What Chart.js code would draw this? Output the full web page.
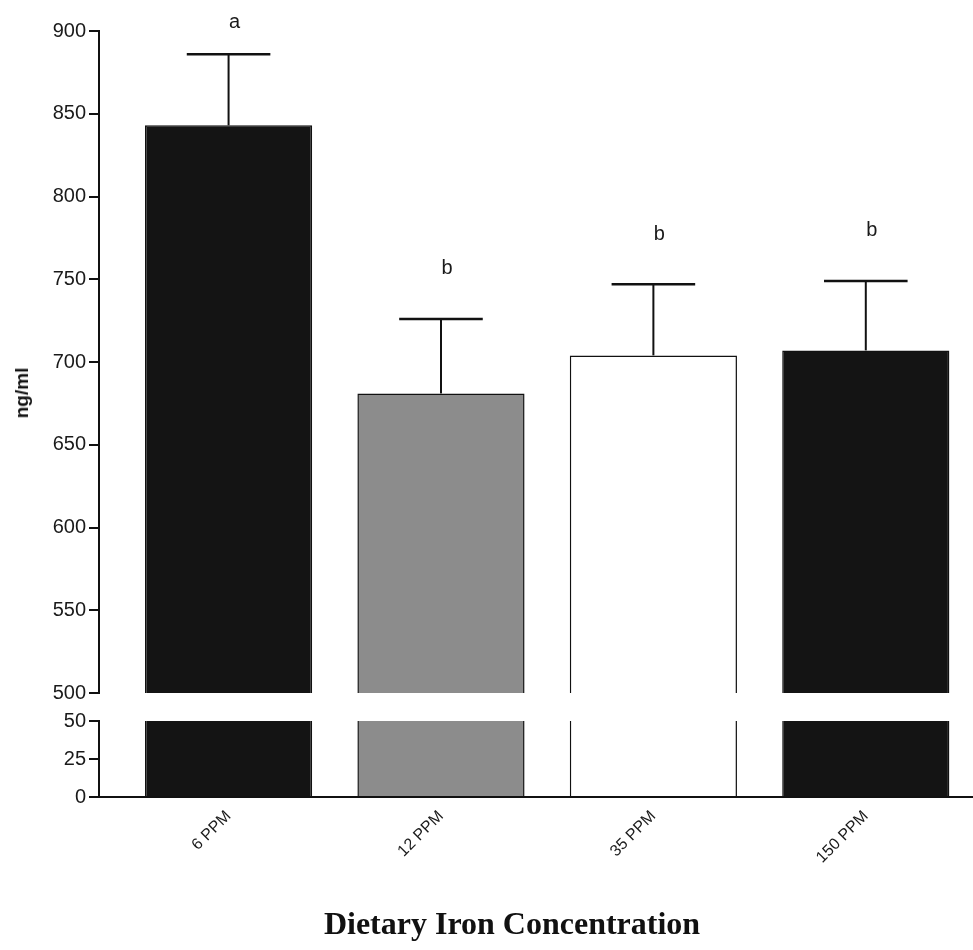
<!DOCTYPE html>
<html>
<head>
<meta charset="utf-8">
<script src="https://cdn.jsdelivr.net/npm/chart.js@4.4.0/dist/chart.umd.min.js"></script>
<style>
body{margin:0;background:#fff;}
#wrap{position:relative;width:973px;height:950px;}
#cTop{position:absolute;left:0;top:0;}
#cBot{position:absolute;left:0;top:706px;}
#yTitle{position:absolute;left:22px;top:393px;transform:translate(-50%,-50%) rotate(-90deg);font:bold 19px "Liberation Sans",Arial,sans-serif;color:#111;white-space:nowrap;}
#xTitle{position:absolute;left:512px;top:923px;transform:translate(-50%,-50%);font:bold 32px "Liberation Serif","Times New Roman",serif;color:#111;white-space:nowrap;}
</style>
</head>
<body>
<div id="wrap">
<canvas id="cTop" width="973" height="708"></canvas>
<canvas id="cBot" width="973" height="244"></canvas>
<div id="yTitle">ng/ml</div>
<div id="xTitle">Dietary Iron Concentration</div>
</div>
<script>
var categorias=['6 PPM','12 PPM','35 PPM','150 PPM'];
var medias=[843,681,704,707];
var sem=[43,45,43,42];
var letras=['a','b','b','b'];
var colores=['#141414','#8c8c8c','#ffffff','#141414'];
var ticksArriba=[500,550,600,650,700,750,800,850,900];
var ticksAbajo=[0,25,50];

var puntos=medias.map(function(v,i){return {x:i+1,y:v};});
var fuente='"Liberation Sans", Arial, sans-serif';

var barrasError={
	id:'barrasError',
	afterDatasetsDraw:function(chart){
		var ctx=chart.ctx;
		var y=chart.scales.y;
		var meta=chart.getDatasetMeta(0);
		ctx.save();
		ctx.strokeStyle='#111';
		ctx.fillStyle='#1a1a1a';
		ctx.font='20px '+fuente;
		ctx.textAlign='center';
		ctx.textBaseline='middle';
		meta.data.forEach(function(bar,i){
			var tope=y.getPixelForValue(medias[i]+sem[i]);
			ctx.lineWidth=2;
			ctx.beginPath();ctx.moveTo(bar.x,bar.y);ctx.lineTo(bar.x,tope);ctx.stroke();
			ctx.lineWidth=2.5;
			ctx.beginPath();ctx.moveTo(bar.x-bar.width/4,tope);ctx.lineTo(bar.x+bar.width/4,tope);ctx.stroke();
			ctx.fillText(letras[i],bar.x+6,Math.max(tope-50,22));
		});
		ctx.restore();
	}
};

function dataset(){
	return {
		data:puntos,
		backgroundColor:colores,
		borderColor:'#111',
		borderWidth:1.5,
		barPercentage:0.787,
		categoryPercentage:1,
		clip:0
	};
}

function ejeX(mostrar){
	return {
		type:'linear',
		min:0.39,
		max:4.5,
		offset:false,
		display:mostrar,
		afterBuildTicks:function(s){s.ticks=categorias.map(function(c,i){return {value:i+1};});},
		afterFit:function(s){s.height=mostrar?153:0;},
		grid:{drawOnChartArea:false,drawTicks:false},
		border:{color:'#111',width:2},
		ticks:{
			autoSkip:false,minRotation:45,maxRotation:45,padding:10,
			color:'#1a1a1a',font:{family:fuente,size:16},
			callback:function(v){return categorias[v-1];}
		}
	};
}

function ejeY(min,max,ticks){
	return {
		min:min,max:max,
		afterFit:function(s){s.width=99;},
		afterBuildTicks:function(s){s.ticks=ticks.map(function(t){return {value:t};});},
		grid:{drawOnChartArea:false,tickLength:10,color:'#111',lineWidth:2},
		border:{color:'#111',width:2},
		ticks:{padding:3,color:'#1a1a1a',font:{family:fuente,size:20}}
	};
}

new Chart(document.getElementById('cTop'),{
	type:'bar',
	data:{datasets:[dataset()]},
	options:{
		responsive:false,animation:false,
		layout:{padding:{top:31,bottom:9,right:1,left:0}},
		plugins:{legend:{display:false},tooltip:{enabled:false}},
		scales:{x:ejeX(false),y:ejeY(500,900,ticksArriba)}
	},
	plugins:[barrasError]
});

new Chart(document.getElementById('cBot'),{
	type:'bar',
	data:{datasets:[dataset()]},
	options:{
		responsive:false,animation:false,
		layout:{padding:{top:13,bottom:0,right:1,left:0}},
		plugins:{legend:{display:false},tooltip:{enabled:false}},
		scales:{x:ejeX(true),y:ejeY(0,50,ticksAbajo)}
	}
});
</script>
</body>
</html>
